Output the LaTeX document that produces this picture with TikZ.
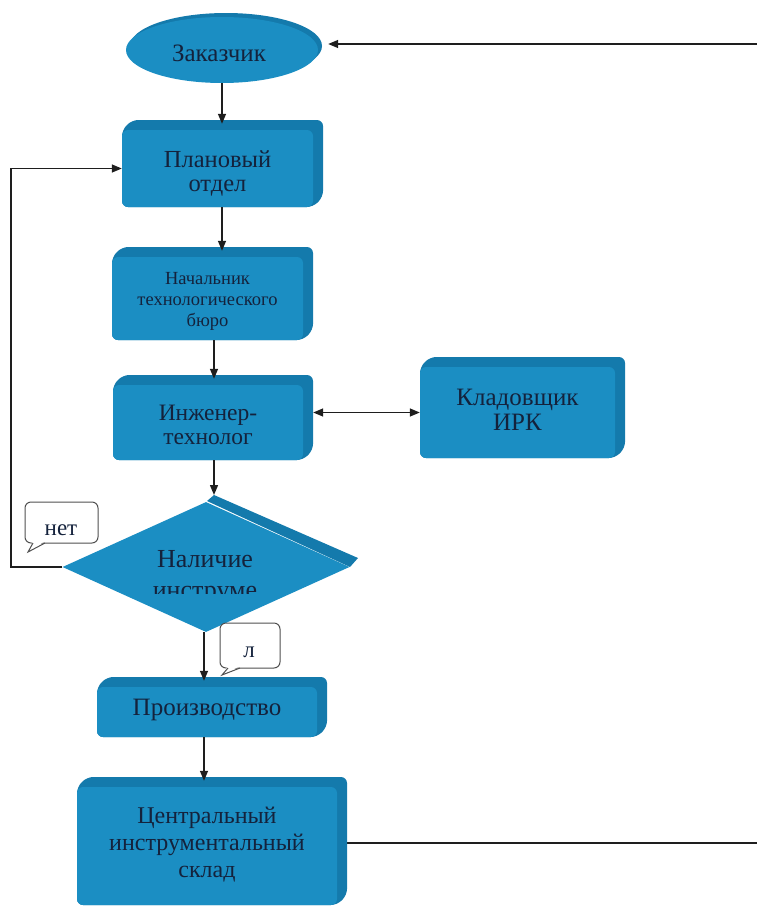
\documentclass[tikz,border=0pt]{standalone}
\usepackage{fontspec}
\setmainfont{Liberation Serif}
\usetikzlibrary{arrows.meta,shapes.geometric,backgrounds}
\definecolor{frontc}{RGB}{27,142,195}
\definecolor{sidec}{RGB}{20,122,172}
\definecolor{txtc}{RGB}{20,34,60}
\definecolor{linec}{RGB}{30,30,30}
\definecolor{callc}{RGB}{80,80,80}
\tikzset{
  frontbox/.style={rectangle, rounded corners=6pt, fill=frontc, inner sep=0pt},
  boxtxt/.style={text=txtc, align=center, inner sep=0pt},
  conn/.style={draw=linec, line width=1.4pt},
  arr/.style={conn, -{Triangle[length=10pt,width=8pt]}},
  dbl/.style={conn, {Triangle[length=10pt,width=8pt]}-{Triangle[length=10pt,width=8pt]}},
  callout/.style={fill=white, draw=callc, line width=1pt, rounded corners=6pt},
  calltxt/.style={text=txtc, font=\fontsize{23}{26}\selectfont, inner sep=0pt}
}
% name x1 y1 x2 y2 font text text-yoffset
\newcommand\tdbox[8]{%
  \fill[sidec, rounded corners=6pt] (#2,#5) -- ({#4-10},#5) -- (#4,{#5-10}) -- (#4,#3) -- ({#2+10},#3) -- (#2,{#3+10}) -- cycle;
  \node[frontbox, minimum width={(#4-#2-10)*1pt}, minimum height={(#5-#3-10)*1pt}] (#1) at ({(#2+#4-10)/2},{(#3+10+#5)/2}) {};
  \node[boxtxt, font=#6] (#1-t) at ({(#2+#4-10)/2},{(#3+10+#5)/2+#8}) {#7};
}
\begin{document}
\begin{tikzpicture}[x=1pt,y=-1pt]
\useasboundingbox (0,0) rectangle (757,908);
% customer ellipse
\fill[sidec] (226,46) ellipse [x radius=96, y radius=33];
\node[ellipse, fill=frontc, minimum width=192pt, minimum height=66pt, inner sep=0pt] (zak) at (222,50) {};
\node[boxtxt, font=\fontsize{25}{28}\selectfont] (zak-t) at (219,53) {Заказчик};
% boxes
\tdbox{plan}{122}{120}{323}{207}{\fontsize{24.5}{24}\selectfont}{Плановый\\отдел}{5}
\tdbox{nach}{112}{247}{313}{340}{\fontsize{18.5}{21}\selectfont}{Начальник\\технологического\\бюро}{3}
\tdbox{inz}{113}{375}{313}{460}{\fontsize{23.5}{24}\selectfont}{Инженер-\\технолог}{2}
\tdbox{klad}{420}{357}{625}{458}{\fontsize{25}{25}\selectfont}{Кладовщик\\ИРК}{-3}
\tdbox{proiz}{97}{677}{327}{737}{\fontsize{25}{27}\selectfont}{Производство}{-2}
\tdbox{sklad}{77}{777}{347}{905}{\fontsize{24}{27}\selectfont}{Центральный\\инструментальный\\склад}{-1}
% decision diamond
\fill[sidec] (207,501) -- (214,495) -- (358,558) -- (350,567) -- cycle;
\node[diamond, fill=frontc, minimum width=287pt, minimum height=130pt, inner sep=0pt] (dia) at (206,567) {};
\node[anchor=base, text=txtc, font=\fontsize{26}{28}\selectfont, inner sep=0pt] (dtxt1) at (205,567) {Наличие};
\begin{scope}
  \clip (60,575) rectangle (360,593);
  \node[anchor=base, text=txtc, font=\fontsize{26}{28}\selectfont, inner sep=0pt] (dtxt2) at (205,598) {инструме};
\end{scope}
% callouts
\draw[callout] (25,502) rectangle (98,543);
\fill[white] (33,541) -- (28,552) -- (45,541) -- cycle;
\draw[draw=callc, line width=1pt] (33,543) -- (28,552) -- (45,543);
\node[calltxt, anchor=base] (net) at (61,535) {нет};
\draw[callout] (220,623) rectangle (280,668);
\fill[white] (228,666) -- (222,675) -- (240,666) -- cycle;
\draw[draw=callc, line width=1pt] (228,668) -- (222,675) -- (240,668);
\node[calltxt, anchor=base] (da) at (249,657) {л};
% connectors
\coordinate (topR) at (757,44);
\coordinate (xB) at (222,0);
\coordinate (xA) at (214,0);
\coordinate (xC) at (204,0);
\coordinate (diatop) at (214,495);
\coordinate (loopc) at (11,567);
\coordinate (botR) at (757,843);
\draw[arr, shorten >=10pt] (topR) -- (topR -| zak.east);
\draw[arr, shorten >=6pt] (zak.south -| xB) -- (plan.north -| xB);
\draw[arr, shorten >=6pt] (plan.south -| xB) -- (nach.north -| xB);
\draw[arr, shorten >=6pt] (nach.south -| xA) -- (inz.north -| xA);
\draw[arr] (inz.south -| diatop) -- (diatop);
\draw[dbl, shorten <=10pt] (inz.east |- klad.west) -- (klad.west);
\draw[arr] (dia.west) -- (loopc) |- (plan.west);
\draw[arr, shorten >=6pt] (dia.south -| xC) -- (proiz.north -| xC);
\draw[arr, shorten >=6pt] (proiz.south -| xC) -- (sklad.north -| xC);
\begin{pgfonlayer}{background}
\draw[conn] (botR) -- (botR -| sklad.center);
\end{pgfonlayer}
\end{tikzpicture}
\end{document}
